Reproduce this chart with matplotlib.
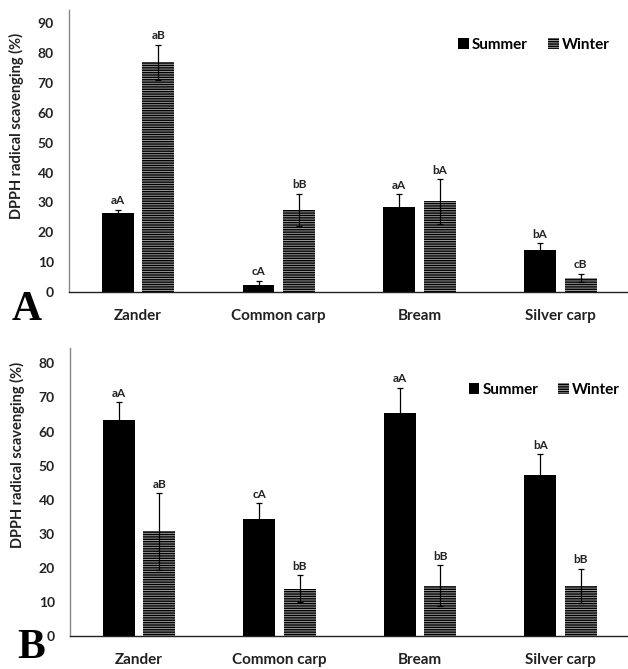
import matplotlib
matplotlib.use("Agg")
import matplotlib.pyplot as plt
import numpy as np
from matplotlib.patches import Patch

categories = ["Zander", "Common carp", "Bream", "Silver carp"]

a_summer = [26.4, 2.4, 28.5, 14.0]
a_summer_err = [1.2, 1.4, 4.2, 2.4]
a_winter = [77.0, 27.5, 30.4, 4.8]
a_winter_err = [5.9, 5.5, 7.5, 1.3]
a_summer_lbl = ["aA", "cA", "aA", "bA"]
a_winter_lbl = ["aB", "bB", "bA", "cB"]

b_summer = [63.5, 34.3, 65.5, 47.1]
b_summer_err = [5.1, 4.6, 7.3, 6.3]
b_winter = [30.7, 13.9, 14.7, 14.7]
b_winter_err = [11.2, 4.0, 6.0, 5.1]
b_summer_lbl = ["aA", "cA", "aA", "bA"]
b_winter_lbl = ["aB", "bB", "bB", "bB"]

plt.rcParams['font.family'] = ['Lato', 'DejaVu Sans']
plt.rcParams['font.weight'] = 'bold'
plt.rcParams['hatch.linewidth'] = 1.0
plt.rcParams['hatch.color'] = 'black'

WINTER_FACE = '#9a9a9a'
WINTER_HATCH = '-------'
TXT = '#222222'

fig = plt.figure(figsize=(6.28, 6.69), dpi=100)

def panel(rect, summer, serr, winter, werr, slbl, wlbl, ymax, yticks,
          letter, letter_xy, legend_xy, ylabel_y):
    ax = fig.add_axes(rect)
    x = np.arange(len(categories))
    w = 0.227
    off = 0.144
    ekw = dict(ecolor='black', elinewidth=0.9, capsize=2.5, capthick=0.9)
    ax.bar(x - off, summer, w, color='black', yerr=serr, error_kw=ekw)
    ax.bar(x + off, winter, w, color=WINTER_FACE, edgecolor='black', linewidth=0,
           hatch=WINTER_HATCH, yerr=werr, error_kw=ekw)
    pad = ymax * 0.012
    for i in range(len(categories)):
        ax.text(x[i] - off, summer[i] + serr[i] + pad, slbl[i], ha='center', va='bottom',
                fontsize=8.5, fontweight='bold', color=TXT)
        ax.text(x[i] + off, winter[i] + werr[i] + pad, wlbl[i], ha='center', va='bottom',
                fontsize=8.5, fontweight='bold', color=TXT)
    ax.set_xlim(-0.49, 3.48)
    ax.set_ylim(0, ymax)
    ax.set_yticks(yticks)
    ax.set_yticklabels([str(t) for t in yticks], fontsize=10, fontweight='bold', color=TXT)
    ax.set_xticks(x)
    ax.set_xticklabels(categories, fontsize=11, fontweight='bold', color=TXT)
    ax.tick_params(axis='both', length=0)
    ax.tick_params(axis='x', pad=12)
    ax.tick_params(axis='y', pad=11)
    for s in ['top', 'right']:
        ax.spines[s].set_visible(False)
    ax.spines['left'].set_color('#888888')
    ax.spines['left'].set_linewidth(1.0)
    ax.spines['bottom'].set_color('#222222')
    ax.spines['bottom'].set_linewidth(1.0)
    ax.set_ylabel("DPPH radical scavenging (%)", fontsize=10.5, fontweight='bold', color=TXT)
    ax.yaxis.set_label_coords(-0.08, ylabel_y)
    handles = [Patch(facecolor='black', label='Summer'),
               Patch(facecolor=WINTER_FACE, edgecolor='black', linewidth=0,
                     hatch=WINTER_HATCH, label='Winter')]
    ax.legend(handles=handles, loc='center right', bbox_to_anchor=legend_xy,
              ncol=2, frameon=False, handlelength=0.7, handleheight=0.7,
              handletextpad=0.2, columnspacing=1.3, borderaxespad=0, borderpad=0,
              prop={'weight': 'bold', 'size': 11})
    fig.text(letter_xy[0], letter_xy[1], letter, fontsize=30, fontweight='bold',
             family='Liberation Serif', va='baseline', ha='left')
    return ax

panel([0.1099, 0.5635, 0.890, 0.4215], a_summer, a_summer_err, a_winter, a_winter_err,
      a_summer_lbl, a_winter_lbl, 94.5, list(range(0, 91, 10)),
      "A", (0.019, 0.5217), (0.967, 0.876), 0.59)
panel([0.1115, 0.0493, 0.8885, 0.4305], b_summer, b_summer_err, b_winter, b_winter_err,
      b_summer_lbl, b_winter_lbl, 84.5, list(range(0, 81, 10)),
      "B", (0.027, 0.016), (0.985, 0.854), 0.63)

fig.savefig("out.png", dpi=100)
